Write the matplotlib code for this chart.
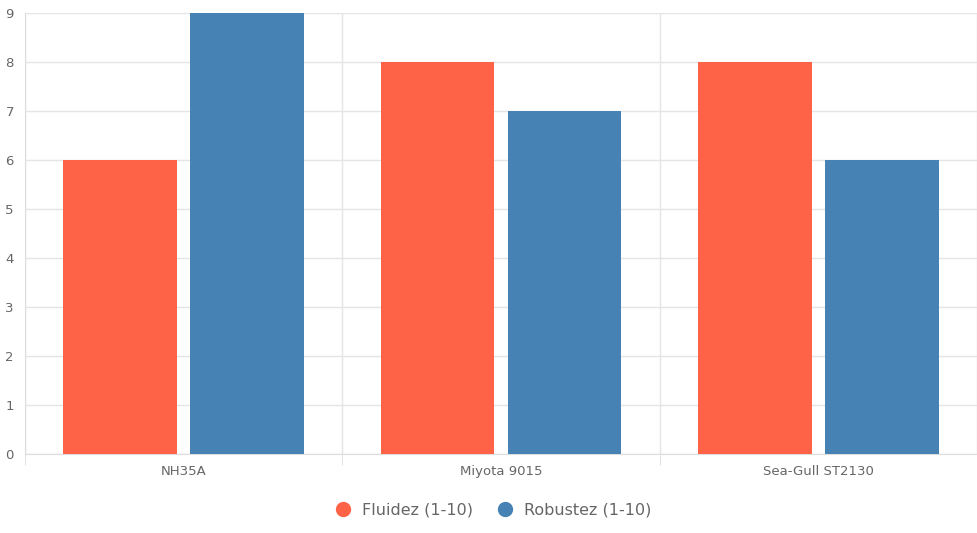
import matplotlib
matplotlib.use("Agg")
import matplotlib.pyplot as plt
from matplotlib.lines import Line2D
import numpy as np

categories = ["NH35A", "Miyota 9015", "Sea-Gull ST2130"]
fluidez = [6, 8, 8]
robustez = [9, 7, 6]
series_names = ["Fluidez (1-10)", "Robustez (1-10)"]
colors = ["#FF6347", "#4682B4"]

fig = plt.figure(figsize=(9.78, 5.33), dpi=100)
ax = fig.add_axes([25/978, 1-454/533, 952/978, 441/533])
x = np.arange(len(categories))
w = 0.358
ax.bar(x - 0.2, fluidez, w, color=colors[0], zorder=3)
ax.bar(x + 0.2, robustez, w, color=colors[1], zorder=3)
ax.set_xlim(-0.5, 2.5)
ax.set_ylim(0, 9)
ax.set_yticks(range(10))
ax.set_xticks(x)
ax.set_xticklabels(categories)
ax.set_xticks([-0.5, 0.5, 1.5, 2.5], minor=True)
ax.tick_params(axis="x", which="major", length=0, pad=8, labelsize=9.5, colors="#666666")
ax.tick_params(axis="x", which="minor", length=8, color="#dddddd")
ax.tick_params(axis="y", length=0, pad=8, labelsize=9.5, colors="#666666")
ax.grid(axis="y", color="#e5e5e5", linewidth=1, zorder=0)
ax.grid(axis="x", which="minor", color="#e5e5e5", linewidth=1, zorder=0)
for s in ["top", "right"]:
    ax.spines[s].set_visible(False)
for s in ["left", "bottom"]:
    ax.spines[s].set_color("#dddddd")
handles = [Line2D([], [], marker="o", linestyle="", markersize=10, color=c) for c in colors]
fig.legend(handles, series_names, loc="center", bbox_to_anchor=(0.5, 1-510/533), ncol=2,
           frameon=False, fontsize=11.5, handletextpad=0.2, columnspacing=1.0,
           labelcolor="#666666")
fig.savefig("out.png", dpi=100)
